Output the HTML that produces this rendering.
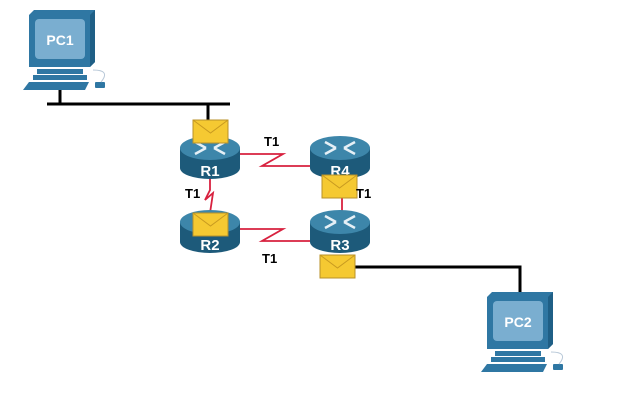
<!DOCTYPE html><html><head><style>body{margin:0;background:#fff}svg{display:block}</style></head><body>
<svg width="637" height="406" viewBox="0 0 637 406" xmlns="http://www.w3.org/2000/svg" font-family="Liberation Sans, sans-serif">
<defs>
<g id="pc">
<path d="M0 5 L5 0 L66 0 L66 52 L61 57 L0 57Z" fill="#2f77a3"/>
<path d="M61 5 L66 0 L66 52 L61 57Z" fill="#1f5f86"/>
<rect x="6" y="9" width="50" height="40" rx="4" fill="#7aaed0"/>
<rect x="8" y="59" width="46" height="5" fill="#2f77a3"/>
<rect x="4" y="65" width="54" height="5" fill="#2f77a3"/>
<path d="M0 72 L60 72 L56 80 L-6 80Z" fill="#2f77a3"/>
<rect x="66" y="72" width="10" height="6" rx="1" fill="#2f77a3"/>
<path d="M64 60 Q82 60 72 72" fill="none" stroke="#b8c8d8" stroke-width="1"/>
</g>
<g id="rt">
<path d="M-30 -8 L-30 12 A30 11 0 0 0 30 12 L30 -8Z" fill="#1d5a7a"/>
<ellipse cx="0" cy="-8" rx="30" ry="12" fill="#3d86aa"/>
<path d="M-15 -14 L-4 -8 M-15 -2 L-4 -8 M15 -14 L4 -8 M15 -2 L4 -8" stroke="#e6f0f6" stroke-width="2.5"/>
</g>
<g id="env">
<rect x="0" y="0" width="35" height="23" fill="#f5c932" stroke="#b8912a" stroke-width="1"/>
<path d="M0 0 L17.5 13 L35 0" fill="none" stroke="#c89a20" stroke-width="1"/>
</g>
</defs>
<g stroke="#000" stroke-width="3" fill="none">
<path d="M47 104 H230 M60 88 V104 M208 104 V122"/>
<path d="M355 267 H520 V293"/>
</g>
<g stroke="#d8213f" stroke-width="1.8" fill="none">
<path d="M239 154 H283 L262 166 H312"/>
<path d="M239 229 H283 L262 241 H312"/>
<path d="M210 178 V190 L205 200 L213 193 L210 213"/>
<path d="M342 185 V213"/>
</g>
<use href="#pc" x="29" y="10"/>
<text x="60" y="45" font-size="14" font-weight="bold" fill="#fff" text-anchor="middle">PC1</text>
<use href="#pc" x="487" y="292"/>
<text x="518" y="327" font-size="14" font-weight="bold" fill="#fff" text-anchor="middle">PC2</text>
<use href="#rt" x="210" y="156"/>
<use href="#rt" x="210" y="230"/>
<use href="#rt" x="340" y="156"/>
<use href="#rt" x="340" y="230"/>
<g font-size="15" font-weight="bold" fill="#fff" text-anchor="middle">
<text x="210" y="176">R1</text><text x="210" y="250">R2</text><text x="340" y="176">R4</text><text x="340" y="250">R3</text>
</g>
<use href="#env" x="193" y="120"/>
<use href="#env" x="193" y="213"/>
<use href="#env" x="322" y="175"/>
<use href="#env" x="320" y="255"/>
<g font-size="13" font-weight="bold" fill="#000">
<text x="264" y="146">T1</text><text x="185" y="198">T1</text><text x="356" y="198">T1</text><text x="262" y="263">T1</text>
</g>
</svg>
</body></html>
